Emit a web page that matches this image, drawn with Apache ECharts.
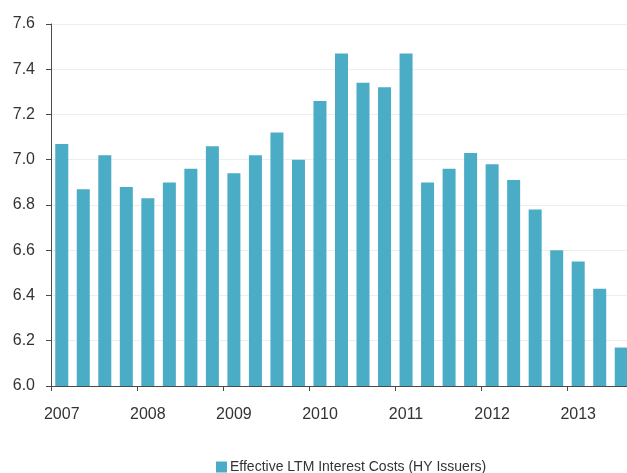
<!DOCTYPE html>
<html lang="en">
<head>
    <meta charset="utf-8" />
    <style>
        html, body { margin: 0; padding: 0; overflow: hidden; background: #fff; }
    </style>
</head>
<body>

<!-- the plot runs a few pixels past the right edge of the window, as in the source -->
<div id="view1" style="height: 473px; width: 632px"></div>

<script src="https://cdn.jsdelivr.net/npm/echarts@6/dist/echarts.min.js"></script>

<script>
    // quarterly data, labels show only the year
    var quarters = [
        "2007Q1", "2007Q2", "2007Q3", "2007Q4",
        "2008Q1", "2008Q2", "2008Q3", "2008Q4",
        "2009Q1", "2009Q2", "2009Q3", "2009Q4",
        "2010Q1", "2010Q2", "2010Q3", "2010Q4",
        "2011Q1", "2011Q2", "2011Q3", "2011Q4",
        "2012Q1", "2012Q2", "2012Q3", "2012Q4",
        "2013Q1", "2013Q2", "2013Q3"
    ];
    var interestCosts = [
        7.07, 6.87, 7.02, 6.88,
        6.83, 6.90, 6.96, 7.06,
        6.94, 7.02, 7.12, 7.00,
        7.26, 7.47, 7.34, 7.32,
        7.47, 6.90, 6.96, 7.03,
        6.98, 6.91, 6.78, 6.60,
        6.55, 6.43, 6.17
    ];
    var seriesName = "Effective LTM Interest Costs (HY Issuers)";

    var font = "'Liberation Sans', Arial, sans-serif";
    var axisColor = "#4a4a4a";

    var option = {
        animation: false,
        grid: { left: 51, right: 0, top: 24, bottom: 87 },
        legend: {
            data: [seriesName],
            left: 211,
            top: 455,
            itemWidth: 11,
            itemHeight: 11,
            icon: "rect",
            textStyle: { fontFamily: font, fontSize: 14, color: "#333", padding: [0, 0, 0, -2] }
        },
        xAxis: {
            type: "category",
            data: quarters,
            axisLine: { lineStyle: { color: axisColor, width: 1 } },
            axisTick: { show: true, length: 5, lineStyle: { color: axisColor } },
            axisLabel: {
                interval: 3,
                margin: 21,
                fontFamily: font,
                fontSize: 16,
                color: "#333",
                formatter: function (v) { return v.slice(0, 4); }
            }
        },
        yAxis: {
            type: "value",
            min: 6.0,
            max: 7.6,
            interval: 0.2,
            axisLine: { show: true, lineStyle: { color: axisColor, width: 1 } },
            axisTick: { show: true, length: 5, lineStyle: { color: axisColor } },
            splitLine: { lineStyle: { color: "#eeeeee" } },
            axisLabel: {
                margin: 16,
                fontFamily: font,
                fontSize: 16,
                color: "#333",
                formatter: function (v) { return v.toFixed(1); }
            }
        },
        series: [{
            name: seriesName,
            type: "bar",
            data: interestCosts,
            barWidth: 13,
            itemStyle: { color: "#4BACC6" }
        }]
    };

    var myChart = echarts.init(document.getElementById("view1"));
    myChart.setOption(option);
</script>

</body>
</html>
